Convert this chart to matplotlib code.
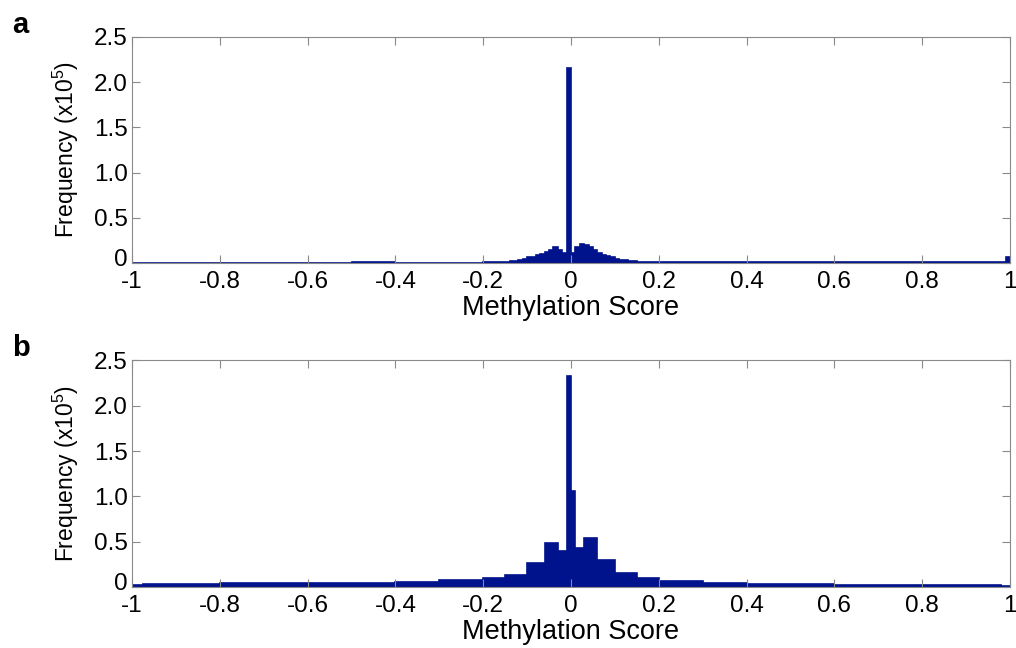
import matplotlib

matplotlib.use("Agg")
import matplotlib.pyplot as plt
import matplotlib.transforms as mtransforms
import numpy as np

plt.rcParams["font.family"] = ["Liberation Sans", "DejaVu Sans"]
plt.rcParams["mathtext.fontset"] = "custom"
plt.rcParams["mathtext.rm"] = "Liberation Sans"
plt.rcParams["mathtext.it"] = "Liberation Sans:italic"

# Panel a: bin edges and frequencies (x10^5)
edges_a = [-1.0, -0.5, -0.4, -0.2, -0.15,
           -0.14, -0.13, -0.12, -0.11, -0.10, -0.09, -0.08, -0.07, -0.06,
           -0.05, -0.04, -0.03, -0.02, -0.01, 0.0, 0.01, 0.02, 0.03, 0.04,
           0.05, 0.06, 0.07, 0.08, 0.09, 0.10, 0.11, 0.12, 0.13, 0.14, 0.15,
           0.3, 0.5, 0.8, 0.99, 1.0]
freq_a = [0.004, 0.008, 0.006, 0.01,
          0.015, 0.02, 0.02, 0.035, 0.04, 0.065, 0.065, 0.09, 0.10,
          0.12, 0.15, 0.18, 0.15, 0.11, 2.16, 0.11, 0.18, 0.21, 0.20,
          0.175, 0.14, 0.11, 0.09, 0.075, 0.07, 0.045, 0.035, 0.03, 0.025,
          0.02, 0.015, 0.012, 0.008, 0.01, 0.065]

# Panel b: bin edges and frequencies (x10^5)
edges_b = [-1.0, -0.975, -0.8, -0.6, -0.4, -0.3, -0.2, -0.15, -0.1, -0.06,
           -0.03, -0.01, 0.0, 0.01, 0.03, 0.06, 0.1, 0.15, 0.2, 0.3, 0.4,
           0.6, 0.8, 0.98, 1.0]
freq_b = [0.025, 0.03, 0.045, 0.05, 0.06, 0.08, 0.10, 0.13, 0.27, 0.49,
          0.40, 2.33, 1.06, 0.43, 0.54, 0.30, 0.15, 0.10, 0.07, 0.05, 0.035,
          0.02, 0.025, 0.015]

x_ticks = [-1, -0.8, -0.6, -0.4, -0.2, 0, 0.2, 0.4, 0.6, 0.8, 1]
x_tick_labels = ["-1", "-0.8", "-0.6", "-0.4", "-0.2", "0",
                 "0.2", "0.4", "0.6", "0.8", "1"]
y_ticks = [0, 0.5, 1.0, 1.5, 2.0, 2.5]
y_tick_labels = ["0", "0.5", "1.0", "1.5", "2.0", "2.5"]

bar_color = "#00138c"
spine_color = "#8a8a8a"

fig = plt.figure(figsize=(10.16, 6.48), dpi=100)

panels = [
    ("a", edges_a, freq_a, [0.130, 0.594, 0.864, 0.349], 33),
    ("b", edges_b, freq_b, [0.130, 0.094, 0.864, 0.350], 356),
]

# nudge the "0" y tick label up a bit so it clears the "-1" x tick label
nudge_up = mtransforms.ScaledTranslation(0, 4 / 72, fig.dpi_scale_trans)

for letter, edges, freq, rect, letter_y in panels:
    ax = fig.add_axes(rect)
    ax.stairs(freq, edges, fill=True, facecolor=bar_color,
              edgecolor=bar_color, linewidth=1.2)

    ax.set_xlim(-1, 1)
    ax.set_ylim(0, 2.5)
    ax.set_xticks(x_ticks)
    ax.set_xticklabels(x_tick_labels)
    ax.set_yticks(y_ticks)
    ax.set_yticklabels(y_tick_labels)
    ax.tick_params(direction="in", length=6, width=0.8, color=spine_color,
                   labelsize=17.5, top=True, right=True)
    ax.tick_params(axis="x", pad=5.5)
    ax.tick_params(axis="y", pad=3)
    for spine in ax.spines.values():
        spine.set_color(spine_color)
        spine.set_linewidth(0.8)

    zero_label = ax.get_yticklabels()[0]
    zero_label.set_transform(zero_label.get_transform() + nudge_up)

    ax.set_xlabel("Methylation Score", fontsize=19.5)
    ax.xaxis.set_label_coords(0.5, -0.14)
    ax.set_ylabel("Frequency (x10$^{5}$)", fontsize=16.5)
    ax.yaxis.set_label_coords(-0.058, 0.5)

    fig.text(12 / 1016, 1 - letter_y / 648, letter, fontsize=21,
             fontweight="bold", va="baseline", ha="left")

fig.savefig("out.png", dpi=100)
plt.close(fig)
